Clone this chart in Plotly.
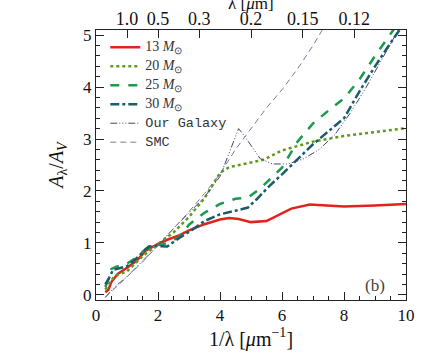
import plotly.graph_objects as go

# ---- data (1/lambda in um^-1, A_lambda/A_V) ----
x13 = [0.3, 0.4, 0.5, 0.7, 1.0, 1.3, 1.6, 2.0, 2.3, 2.7, 3.0, 3.5, 4.0, 4.3, 4.6, 5.0, 5.5, 6.0, 6.3, 6.9, 7.5, 8.0, 9.0, 10.0]
y13 = [0.05, 0.1, 0.25, 0.4, 0.52, 0.65, 0.85, 0.98, 1.06, 1.15, 1.24, 1.36, 1.45, 1.48, 1.46, 1.40, 1.42, 1.58, 1.66, 1.74, 1.72, 1.70, 1.72, 1.75]

x20 = [0.3, 0.4, 0.6, 1.0, 1.5, 2.0, 2.5, 3.0, 3.5, 4.0, 4.3, 4.8, 5.4, 6.0, 7.0, 8.0, 9.0, 10.0]
y20 = [0.1, 0.2, 0.36, 0.45, 0.74, 0.98, 1.2, 1.5, 1.86, 2.35, 2.46, 2.52, 2.6, 2.78, 2.95, 3.06, 3.13, 3.21]

x25 = [0.3, 0.4, 0.5, 0.7, 1.0, 1.3, 1.6, 1.9, 2.1, 2.4, 2.7, 3.0, 3.5, 4.0, 4.5, 4.9, 5.3, 5.7, 6.0, 6.5, 7.0, 7.5, 8.0, 8.5, 9.0, 9.65]
y25 = [0.15, 0.3, 0.5, 0.55, 0.6, 0.72, 0.88, 0.97, 0.96, 1.02, 1.12, 1.35, 1.58, 1.75, 1.85, 1.87, 2.05, 2.28, 2.45, 2.95, 3.3, 3.55, 3.78, 4.15, 4.6, 5.15]

x30 = [0.3, 0.4, 0.55, 0.8, 1.0, 1.3, 1.7, 2.0, 2.3, 2.7, 3.1, 3.5, 4.0, 4.5, 4.9, 5.2, 5.6, 6.0, 6.5, 7.0, 7.5, 8.0, 8.5, 9.0, 9.5, 9.85]
y30 = [0.2, 0.3, 0.48, 0.52, 0.55, 0.7, 0.93, 0.94, 0.93, 1.1, 1.25, 1.42, 1.55, 1.62, 1.68, 1.85, 2.1, 2.32, 2.62, 2.9, 3.15, 3.4, 3.92, 4.4, 4.85, 5.15]

xgal = [0.3, 0.6, 1.0, 1.5, 2.0, 2.5, 3.0, 3.5, 4.0, 4.3, 4.6, 4.8, 5.0, 5.3, 5.7, 6.2, 6.7, 7.2, 7.7, 8.2, 8.7, 9.2, 9.8]
ygal = [-0.05, 0.15, 0.35, 0.65, 0.95, 1.28, 1.58, 1.88, 2.28, 2.75, 3.2, 3.05, 2.88, 2.62, 2.52, 2.52, 2.62, 2.8, 3.08, 3.5, 3.98, 4.5, 5.15]

xsmc = [0.3, 0.6, 1.0, 1.5, 2.0, 2.5, 3.0, 3.5, 4.0, 4.5, 5.0, 5.5, 6.0, 6.5, 7.0, 7.35]
ysmc = [-0.05, 0.12, 0.33, 0.63, 0.95, 1.27, 1.6, 1.95, 2.33, 2.8, 3.2, 3.6, 3.95, 4.35, 4.8, 5.15]

lam_labels = ["1.0", "0.5", "0.3", "0.2", "0.15", "0.12"]
lam_values = [1.0, 0.5, 0.3, 0.2, 0.15, 0.12]
inv_lam = [1.0 / v for v in lam_values]

SERIF = "Liberation Serif, Times New Roman, serif"


def serif_label(txt):
    return f"<span style='font-size:14px;font-family:Liberation Serif'>{txt} <i>M</i><sub>⊙</sub></span>"


def mono_label(txt):
    return f"<span style='font-size:13.5px;font-family:Liberation Mono'>{txt}</span>"


fig = go.Figure()
fig.add_trace(go.Scatter(x=x13, y=y13, mode="lines", name=serif_label("13"),
                         line=dict(color="#e0231c", width=2.5)))
fig.add_trace(go.Scatter(x=x20, y=y20, mode="lines", name=serif_label("20"),
                         line=dict(color="#5e9a1e", width=2.5, dash="dot")))
fig.add_trace(go.Scatter(x=x25, y=y25, mode="lines", name=serif_label("25"),
                         line=dict(color="#1a9a4c", width=2.5, dash="dash")))
fig.add_trace(go.Scatter(x=x30, y=y30, mode="lines", name=serif_label("30"),
                         line=dict(color="#1b5c6b", width=2.5, dash="dashdot")))
fig.add_trace(go.Scatter(x=xgal, y=ygal, mode="lines", name=mono_label("Our Galaxy"),
                         line=dict(color="#45456a", width=1, dash="7px,2px,1px,2px,1px,2px,1px,2px")))
fig.add_trace(go.Scatter(x=xsmc, y=ysmc, mode="lines", name=mono_label("SMC"),
                         line=dict(color="#7a7a9a", width=1, dash="6px,4px")))
# invisible carrier trace so the top (wavelength) axis is drawn
fig.add_trace(go.Scatter(x=inv_lam, y=[None] * len(inv_lam), xaxis="x2", yaxis="y",
                         mode="lines", showlegend=False, hoverinfo="skip"))

fig.update_layout(
    width=436, height=363,
    margin=dict(l=96, r=30, t=30, b=63, autoexpand=False),
    paper_bgcolor="white", plot_bgcolor="white",
    font=dict(family=SERIF, size=17, color="#111"),
    showlegend=True,
    legend=dict(x=0.03, y=0.99, xanchor="left", yanchor="top",
                bgcolor="rgba(0,0,0,0)", font=dict(family=SERIF, size=10, color="#333"),
                tracegroupgap=0, itemwidth=30),
    xaxis=dict(range=[0, 10], tickvals=[0, 2, 4, 6, 8, 10], ticks="inside", ticklen=8,
               tickwidth=1, tickcolor="#222",
               minor=dict(dtick=0.5, ticks="inside", ticklen=4, tickcolor="#222"),
               showgrid=False, zeroline=False, showline=True, linecolor="#222", linewidth=1,
               mirror=True, automargin=False,
               title=dict(text="1/λ [<i>μ</i>m<sup>−1</sup>]", standoff=4)),
    yaxis=dict(range=[-0.1, 5.1], tickvals=[0, 1, 2, 3, 4, 5], ticks="inside", ticklen=8,
               tickwidth=1, tickcolor="#222",
               minor=dict(dtick=0.2, ticks="inside", ticklen=4, tickcolor="#222"),
               showgrid=False, zeroline=False, showline=True, linecolor="#222", linewidth=1,
               mirror="ticks", automargin=False,
               title=dict(text="<i>A</i><sub>λ</sub>/<i>A</i><sub><i>V</i></sub>", standoff=14)),
    xaxis2=dict(overlaying="x", side="top", anchor="y", range=[0, 10],
                tickvals=inv_lam, ticktext=lam_labels, tickfont=dict(size=18),
                ticks="inside", ticklen=8, tickcolor="#222", showgrid=False, zeroline=False,
                showline=False, automargin=False),
    annotations=[
        dict(x=0.94, y=0.01, xref="paper", yref="paper", text="(b)",
             showarrow=False, xanchor="right", yanchor="bottom",
             font=dict(family=SERIF, size=17, color="#444")),
        dict(x=0.5, y=1.098, xref="paper", yref="paper", text="λ [<i>μ</i>m]",
             showarrow=False, xanchor="center", yanchor="middle",
             font=dict(family=SERIF, size=17, color="#111")),
    ],
)

fig.write_html("out.html", config={"displayModeBar": False},
               post_script="document.body.style.margin='0';")
